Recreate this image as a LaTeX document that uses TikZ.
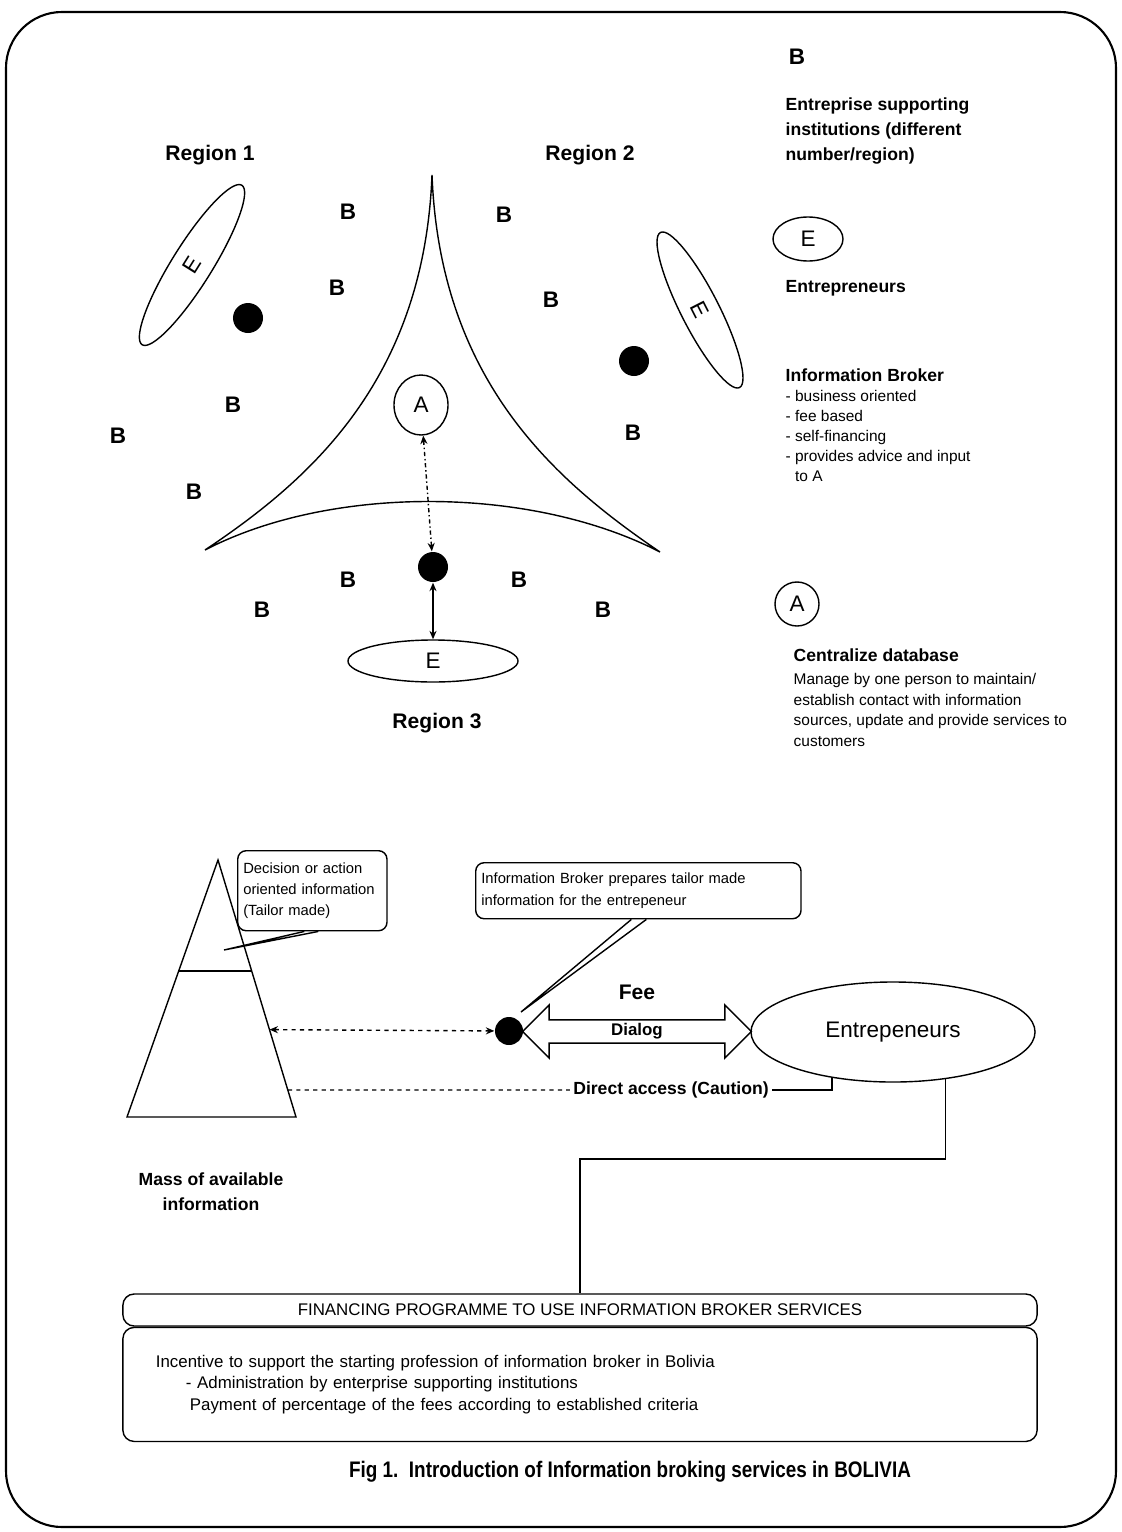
\documentclass[tikz,border=0pt]{standalone}
\usepackage{fontspec}
\setmainfont{Liberation Sans}
\usepackage{graphicx}
\usetikzlibrary{arrows.meta,shapes.geometric,shapes.arrows,positioning,calc}

\begin{document}
\begin{tikzpicture}[x=0.025cm, y=-0.025cm, line width=1pt,
    inst/.style={font=\fontsize{16}{16}\selectfont\bfseries, inner sep=0},
    region/.style={font=\fontsize{15}{15}\selectfont\bfseries},
    hub/.style={circle, fill, inner sep=0, minimum size=0.75cm},
    ent/.style={ellipse, draw, inner sep=0, font=\fontsize{16}{16}\selectfont},
    legtxt/.style={anchor=north west, inner sep=0, align=left},
    note/.style={draw, rounded corners=6pt, anchor=north west, align=left, inner xsep=4pt, font=\fontsize{10.5}{15}\selectfont},
    darr/.style={{Stealth[length=6pt,width=5pt]}-{Stealth[length=6pt,width=5pt]}}
]
\useasboundingbox (0,0) rectangle (1122,1532);
\draw[line width=1.5pt, rounded corners=1.4cm] (6,12) rectangle (1116,1527);

\node[region] (reg1) at (210,155) {Region 1};
\node[region] (reg2) at (590,155) {Region 2};
\node[region] (reg3) at (437,723) {Region 3};

\coordinate (top) at (432,175);
\coordinate (left) at (205,550);
\coordinate (right) at (660,552);
\draw (top) .. controls (424,380) and (310,480) .. (left)
      .. controls (330,485) and (530,485) .. (right)
      .. controls (554,480) and (440,380) .. (top);

\foreach \x/\y [count=\i] in {348/212, 504/215, 337/288, 551/300, 233/405, 118/436,
    194/492, 633/433, 348/580, 519/580, 262/610, 603/610}
  \node[inst] (b\i) at (\x,\y) {B};

\node[hub] (hub1) at (248,318) {};
\node[hub] (hub2) at (634,361) {};
\node[hub] (hub3) at (433,567) {};

\node[ent, rotate=58, minimum width=4.7cm, minimum height=1cm] (ent1) at (192,265) {E};
\node[ent, rotate=-63, minimum width=4.35cm, minimum height=0.95cm] (ent2) at (700,310) {E};
\node[ent, minimum width=4.25cm, minimum height=1.05cm] (ent3) at (433,661) {E};
\node[ent, minimum width=1.35cm, minimum height=1.5cm] (dbA) at (421,405) {A};

\draw[darr, dash dot] (dbA) -- (hub3);
\draw[darr] (hub3) -- (ent3);

\node[inst] (legB) at (797,57) {B};
\node[legtxt, font=\fontsize{12.5}{17.8}\selectfont\bfseries] (legBtxt) at (785,97)
  {Entreprise supporting\\institutions (different\\number/region)};
\node[ent, minimum width=1.75cm, minimum height=1.1cm] (legE) at (808,239) {E};
\node[legtxt, font=\fontsize{12.5}{15}\selectfont\bfseries] (legEtxt) at (785,280) {Entrepreneurs};
\node[legtxt, font=\fontsize{12.5}{15}\selectfont\bfseries] (brk) at (785,368) {Information Broker};
\node[legtxt, font=\fontsize{11}{14.2}\selectfont] (brktxt) at (785,390)
  {- business oriented\\- fee based\\- self-financing\\- provides advice and input\\\phantom{- }to A};
\node[draw, circle, minimum size=1.1cm, inner sep=0, font=\fontsize{16}{16}\selectfont] (legA) at (797,604) {A};
\node[legtxt, font=\fontsize{12.5}{15}\selectfont\bfseries] (dbtitle) at (793,648) {Centralize database};
\node[legtxt, font=\fontsize{11}{14.5}\selectfont] (dbtxt) at (793,673)
  {Manage by one person to maintain/\\establish contact with information\\sources, update and provide services to\\customers};

\coordinate (apex) at (218,860);
\coordinate (pbl) at (127,1117);
\coordinate (pbr) at (296,1117);
\draw (apex) -- (pbl) -- (pbr) -- cycle;
\draw ($(apex)!0.432!(pbl)$) -- ($(apex)!0.432!(pbr)$);
\coordinate (pyrtip) at (224,950);
\coordinate (pyrmid) at ($(apex)!0.66!(pbr)$);
\coordinate (pyrlow) at ($(apex)!0.895!(pbr)$);

\node[note, text width=3.45cm, minimum height=2cm] (note1) at (237,850)
  {Decision or action\\oriented information\\(Tailor made)};
\node[note, text width=7.85cm, minimum height=1.4cm] (note2) at (475,862)
  {Information Broker prepares tailor made\\information for the entrepeneur};

\node[hub, minimum size=0.7cm] (broker) at (509,1031) {};
\coordinate (brktip) at (521,1012);
\draw ($(note1.south)+(-8,0)$) -- (pyrtip) -- ($(note1.south)+(6,0)$);
\draw ($(note2.south)+(-7,0)$) -- (brktip) -- ($(note2.south)+(8,0)$);

\node[ent, minimum width=7.1cm, minimum height=2.5cm] (entr) at (893,1032) {Entrepeneurs};
\node[double arrow, draw, minimum height=5.72cm, double arrow head extend=0.375cm,
      inner xsep=0, inner ysep=2.5pt, text height=8pt, text depth=2.5pt,
      font=\fontsize{12}{12}\selectfont\bfseries] (dialog) at ($(broker.east)!0.5!(entr.west)$) {Dialog};
\node[font=\fontsize{15}{15}\selectfont\bfseries] (fee) at (637,992) {Fee};

\draw[darr, dashed] (pyrmid) -- (broker);

\node[font=\fontsize{12.5}{12.5}\selectfont\bfseries, inner sep=2pt] (access) at (671,1090) {Direct access (Caution)};
\draw[dashed] (pyrlow) -- (access);
\draw (access) -| (entr.-143);

\node[align=center, font=\fontsize{12.5}{17.8}\selectfont\bfseries] (mass) at (211,1192)
  {Mass of available\\information};

\node[draw, rounded corners=8pt, minimum width=22.85cm, minimum height=0.8cm,
      font=\fontsize{12}{12}\selectfont] (fin) at (580,1310)
  {FINANCING PROGRAMME TO USE INFORMATION BROKER SERVICES};
\node[draw, rounded corners=8pt, minimum width=22.85cm, minimum height=2.85cm, below=0pt of fin,
      text width=21.2cm, align=left, font=\fontsize{12}{15.5}\selectfont] (finbody)
  {Incentive to support the starting profession of information broker in Bolivia\\
   \hspace*{0.75cm}- Administration by enterprise supporting institutions\\
   \hspace*{0.85cm}Payment of percentage of the fees according to established criteria};

\draw (entr.-42) -- ++(0,80) -| (fin.north);

\node[font=\fontsize{16}{16}\selectfont\bfseries] (caption) at (630,1472)
  {\scalebox{0.84}[1]{Fig 1.\ \ Introduction of Information broking services in BOLIVIA}};
\end{tikzpicture}
\end{document}
